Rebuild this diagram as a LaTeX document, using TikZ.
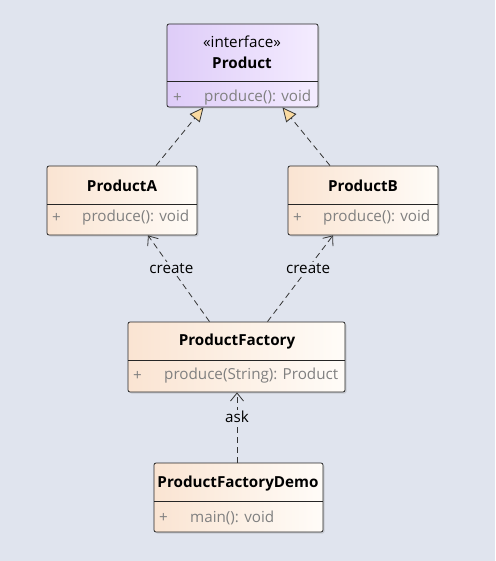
\documentclass[tikz,border=0pt]{standalone}
\usepackage{fontspec}
\setmainfont{Open Sans}
\usetikzlibrary{arrows.meta,calc,shadows}
\definecolor{bg}{RGB}{224,228,238}
\definecolor{peachL}{RGB}{250,228,210}
\definecolor{peachR}{RGB}{255,252,248}
\definecolor{lavL}{RGB}{222,204,248}
\definecolor{lavR}{RGB}{244,236,255}
\definecolor{member}{RGB}{128,128,128}
\definecolor{tipfill}{RGB}{250,218,160}
\tikzset{
  x=1pt,y=-1pt,
  classbox/.style={draw=black!85,line width=0.8pt,rounded corners=2pt,inner sep=0pt,
    shading=axis,left color=peachL,right color=peachR,shading angle=90,
    drop shadow={shadow xshift=1.5pt,shadow yshift=-1.5pt,opacity=0.25}},
  ifacebox/.style={classbox,left color=lavL,right color=lavR},
  title/.style={font=\fontsize{15.2}{17}\selectfont\bfseries,inner sep=0pt},
  stereo/.style={font=\fontsize{15.2}{17}\selectfont,inner sep=0pt},
  mem/.style={font=\fontsize{15.2}{17}\selectfont,text=member,inner sep=0pt,anchor=west},
  divider/.style={draw=black!85,line width=0.8pt},
  realize/.style={draw=black!80,line width=0.8pt,dash pattern=on 6pt off 4pt,
    -{Triangle[open,fill=tipfill,length=14pt,width=13pt]}},
  depend/.style={draw=black!80,line width=0.8pt,dash pattern=on 6pt off 4pt,
    -{Straight Barb[length=8pt,width=13pt]}},
  lbl/.style={font=\fontsize{15.2}{17}\selectfont,fill=bg,inner sep=1pt}
}
\begin{document}
\begin{tikzpicture}
\useasboundingbox[fill=bg] (0,0) rectangle (495,561);
% Product
\node[ifacebox,minimum width=151pt,minimum height=83pt] (prod) at (242.5,65.5) {};
\node[stereo] (prodst) at (242,42) {«interface»};
\node[title] (prodt) at (242,63) {Product};
\draw[divider] (167,81) -- (318,81);
\node[mem] (prodp) at (173,97.5) {+};
\node[mem] (prodm) at (204,97.5) {produce(): void};
% ProductA
\node[classbox,minimum width=150pt,minimum height=69pt] (pa) at (122,200.5) {};
\node[title] (pat) at (122,186) {ProductA};
\draw[divider] (47,204) -- (197,204);
\node[mem] (pap) at (52,217.5) {+};
\node[mem] (pam) at (82,217.5) {produce(): void};
% ProductB
\node[classbox,minimum width=150pt,minimum height=69pt] (pb) at (363,200.5) {};
\node[title] (pbt) at (363,186) {ProductB};
\draw[divider] (288,204) -- (438,204);
\node[mem] (pbp) at (293,217.5) {+};
\node[mem] (pbm) at (323,217.5) {produce(): void};
% ProductFactory
\node[classbox,minimum width=217pt,minimum height=70pt] (pf) at (236.5,357) {};
\node[title] (pft) at (237,342) {ProductFactory};
\draw[divider] (128,360) -- (345,360);
\node[mem] (pfp) at (133,375.5) {+};
\node[mem] (pfm) at (164,375.5) {produce(String): Product};
% ProductFactoryDemo
\node[classbox,minimum width=169pt,minimum height=69pt] (pd) at (238.5,497.5) {};
\node[title] (pdt) at (238,484) {ProductFactoryDemo};
\draw[divider] (154,501) -- (323,501);
\node[mem] (pdp) at (159,517.5) {+};
\node[mem] (pdm) at (190,517.5) {main(): void};
% connectors
\draw[realize] ($(pa.north)+(34,0)$) -- ($(prod.south)+(-39,0)$);
\draw[realize] ($(pb.north)+(-33,0)$) -- ($(prod.south)+(40,0)$);
\draw[depend] ($(pf.north)+(-27,0)$) -- node[lbl,pos=0.62] {create} ($(pa.south)+(26,0)$);
\draw[depend] ($(pf.north)+(31,0)$) -- node[lbl,pos=0.62] {create} ($(pb.south)+(-30,0)$);
\draw[depend] ($(pd.north)+(-1.5,0)$) -- node[lbl,pos=0.65] {ask} ($(pf.south)+(0.5,0)$);
\end{tikzpicture}
\end{document}
